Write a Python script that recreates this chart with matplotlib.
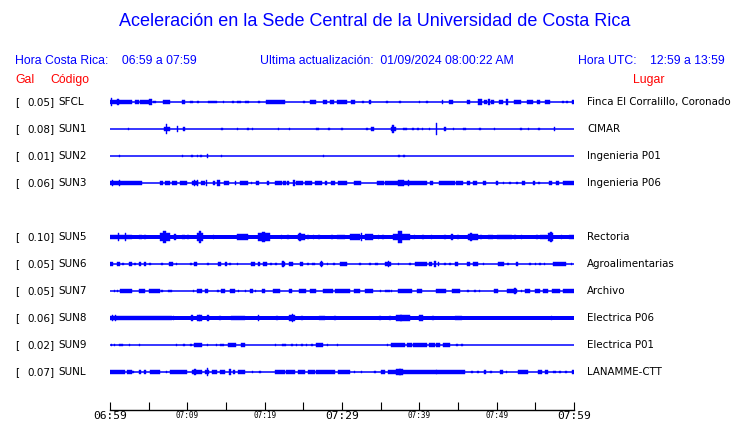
import matplotlib
matplotlib.use("Agg")
import matplotlib.pyplot as plt

# ---------------- data ----------------
CODES = ["SFCL", "SUN1", "SUN2", "SUN3", "SUN4", "SUN5", "SUN6", "SUN7", "SUN8", "SUN9", "SUNL"]
GAL = [0.05, 0.08, 0.01, 0.06, None, 0.10, 0.05, 0.05, 0.06, 0.02, 0.07]
PLACES = ["Finca El Corralillo, Coronado", "CIMAR", "Ingenieria P01", "Ingenieria P06", "",
          "Rectoria", "Agroalimentarias", "Archivo", "Electrica P06", "Electrica P01", "LANAMME-CTT"]

# background envelope amplitude of each trace (relative units)
BASE = {"SFCL": 0, "SUN1": 0, "SUN2": 0, "SUN3": 0, "SUN5": 1.15, "SUN6": 0,
        "SUN7": 0, "SUN8": 1.1, "SUN9": 0, "SUNL": 0}

# bursts: (start minute, end minute, envelope amplitude)
SFCL_EV = [(0,2.8,1.4),(0.1,0.3,2.2),(0.9,1.1,2.0),(3.2,3.7,1),(3.9,5.0,1),(5.1,5.4,1.8),(5.6,6.0,0.9),
           (6.9,7.8,1),(9.3,9.7,1),(10.4,10.7,0.9),(11.3,11.5,0.8),(12.7,13.8,0.9),(14.6,14.8,0.7),
           (15.8,16.0,0.7),(16.4,17.0,0.9),(17.4,18.0,0.9),(19.2,19.4,0.7),(20.2,22.6,1.2),(25.0,25.2,0.7),
           (25.9,26.7,1),(27.6,28.0,1),(28.4,29.0,1),(29.3,30.6,1),(31.2,31.7,1),(32.6,32.8,0.7),
           (33.5,33.8,1),(35.7,35.9,0.6),(37.4,37.6,0.6),(39.9,40.1,0.6),(40.9,41.1,0.6),(42.9,43.1,1),
           (43.8,44.3,1),(46.1,46.5,1),(47.6,48.1,1.6),(48.3,48.8,1.2),(48.9,49.2,1.8),(49.3,49.6,1),
           (50.3,50.8,1),(51.2,51.5,1.8),(52.3,53.2,1),(53.9,54.7,1),(55.2,55.6,1),(56.2,56.9,1),
           (58.5,58.7,0.7),(59.0,59.2,0.7),(59.7,60,1)]
SUN1_EV = [(2.3,2.5,0.8),(7.0,7.8,1.4),(7.2,7.4,3.0),(8.6,8.8,1.6),(9.4,9.7,1.0),(14.4,14.6,0.7),
           (16.4,16.6,0.7),(17.7,18.0,0.8),(18.3,18.5,0.6),(21.7,21.9,0.7),(23.1,23.3,0.7),(26.7,27.0,0.8),
           (28.2,28.4,0.7),(29.9,30.1,0.6),(33.1,33.3,0.7),(33.8,34.1,1.0),(36.3,37.0,1.4),(36.5,36.7,2.4),
           (37.9,38.4,0.8),(39.1,39.3,0.8),(39.7,39.9,0.7),(40.3,40.5,0.7),(41.2,41.4,0.7),(42.1,42.25,3.8),
           (43.2,43.4,1.0),(44.3,44.5,0.6),(45.7,46.0,0.7),(47.7,48.0,0.8),(49.6,49.8,0.6),(53.0,53.3,0.7),
           (54.0,54.2,0.7),(55.4,55.6,0.6),(57.4,57.6,1.0)]
SUN2_EV = [(1.1,1.3,0.6),(9.3,9.5,0.6),(10.5,10.7,0.6),(11.2,11.4,0.6),(11.7,11.9,0.9),(12.5,12.7,1.0),
           (14.3,14.5,0.6),(27.5,27.7,0.6),(37.3,37.5,0.6),(37.9,38.1,0.6)]
SUN3_EV = [(0,4.1,1.2),(0.2,0.4,1.8),(1.1,1.3,1.8),(6.5,6.9,1),(7.1,7.8,1),(8.0,8.6,1.3),(9.0,10.0,1),
           (10.6,11.4,1.4),(10.8,11.0,2.0),(11.2,11.4,2.0),(11.8,12.3,1.2),(12.4,12.6,2.0),(13.3,13.6,1),
           (13.9,14.2,1.8),(14.7,15.4,1),(16.1,16.3,1),(16.8,17.9,1),(18.2,18.4,0.8),(18.9,19.3,1),
           (20.3,20.6,1),(21.3,22.2,1.2),(22.4,22.7,1.2),(22.9,23.2,1),(23.7,23.9,1.8),(24.1,25.0,1.2),
           (25.2,26.1,1.2),(26.5,27.4,1.2),(27.8,28.1,1.2),(28.6,29.1,1.2),(29.5,30.6,1),(31.5,32.5,1),
           (34.5,35.4,1),(35.6,41.0,1.4),(37.3,38.0,1.9),(38.5,38.7,1.9),(41.4,41.8,1.5),(42.5,44.6,1.2),
           (44.8,45.7,1.2),(46.2,46.5,1),(47.0,47.4,1),(48.2,48.6,1),(49.9,50.2,1),(50.8,51.0,0.8),
           (51.6,51.8,0.8),(52.5,52.7,0.8),(53.3,53.7,1),(54.7,55.0,1),(55.4,55.6,0.8),(56.8,57.1,1),
           (57.7,58.0,1),(58.6,60,1.2)]
SUN5_EV = [(0,2.8,1.5),(1.0,1.2,2.2),(1.9,2.1,2.2),(3.7,4.1,1.5),(4.4,4.6,1.5),(6.5,7.8,2.4),(6.9,7.3,4.0),
           (8.3,8.5,1.6),(9.3,9.7,1.5),(10.0,10.2,1.5),(11.2,12.0,2.2),(11.5,11.8,3.6),(13.3,13.5,1.5),
           (16.4,17.9,1.8),(19.2,20.7,2.2),(19.6,20.1,3.4),(22.1,22.3,1.5),(22.9,23.1,1.5),(24.3,25.2,1.8),
           (24.5,24.7,2.3),(25.5,25.7,1.5),(26.2,26.4,1.5),(26.9,27.1,1.5),(28.6,28.8,1.5),(29.4,30.4,1.5),
           (31.0,32.3,1.8),(32.4,32.6,2.3),(33.0,34.0,1.8),(34.6,34.8,1.5),(35.2,35.4,1.5),(36.6,38.8,2.0),
           (37.3,37.7,3.8),(39.3,39.5,1.5),(40.4,40.6,1.5),(41.5,41.7,1.5),(43.2,43.4,1.5),(44.1,44.3,1.8),
           (44.9,45.1,1.5),(46.3,47.6,2.0),(46.6,46.8,2.6),(47.9,48.1,1.5),(48.9,49.5,1.5),(50.0,52.0,1.5),
           (52.3,52.5,1.5),(53.1,53.3,1.5),(55.1,55.3,1.5),(55.6,56.5,1.5),(56.7,57.3,2.2),(56.9,57.1,3.4),
           (58.3,58.5,1.5),(59.3,60,1.5)]
SUN6_EV = [(0,0.4,1),(0.9,1.3,1),(1.6,1.8,0.7),(2.5,2.8,1),(3.1,3.3,0.7),(3.7,4.0,1),(4.4,4.7,1.5),
           (5.1,5.3,0.7),(6.6,6.8,0.7),(7.6,8.2,1),(8.5,8.7,0.7),(10.4,10.6,0.7),(10.9,11.2,1),(12.6,12.8,0.7),
           (14.0,14.3,1),(14.9,15.1,1.5),(15.4,15.7,0.8),(16.4,16.6,0.7),(18.2,18.7,1),(19.1,19.4,1),
           (19.8,20.3,1),(20.7,20.9,0.7),(21.4,21.6,0.7),(22.2,22.6,1.4),(22.3,22.5,2.0),(23.1,23.7,1.5),
           (24.6,25.0,1),(25.5,25.7,0.8),(26.1,26.5,0.8),(27.1,27.6,1.1),(27.3,27.45,2.0),(28.0,28.2,0.7),
           (28.9,29.1,0.7),(29.8,30.6,1),(32.2,32.4,0.7),(33.5,33.7,0.7),(34.3,34.7,0.7),(35.6,36.4,1.3),
           (35.9,36.1,1.8),(37.2,37.4,0.8),(38.7,38.9,0.7),(39.4,41.0,1),(41.2,41.6,1.5),(41.9,42.1,1.9),
           (42.4,42.6,1),(43.2,43.4,0.7),(43.9,44.1,0.7),(44.6,45.0,1),(46.1,46.6,1.4),(47.0,47.6,1),
           (48.2,48.4,0.7),(50.2,51.0,1),(51.4,51.6,0.7),(52.5,52.8,1),(54.2,54.4,0.7),(54.9,55.1,0.7),
           (55.5,55.7,0.7),(56.1,56.3,0.7),(57.3,59.0,1),(59.6,59.8,0.7)]
SUN7_EV = [(0.5,0.7,0.6),(0.85,1.0,0.6),(1.3,2.8,1),(3.7,4.5,1),(5.0,6.5,1),(6.6,6.8,0.6),(7.5,8.0,0.8),
           (10.7,10.9,0.6),(11.2,11.9,1),(12.3,12.7,1),(13.9,14.1,0.6),(14.4,14.9,1),(15.5,16.2,1.3),
           (16.5,16.7,0.6),(17.4,17.6,0.6),(18.1,18.5,1),(18.7,18.9,0.6),(19.6,20.0,1),(21.1,22.0,1.2),
           (23.1,23.5,1),(24.4,25.4,1.2),(25.9,26.7,1.2),(27.6,28.9,1.2),(29.1,31.0,1.3),(31.5,32.3,1.3),
           (33.0,34.0,1),(34.9,35.1,0.6),(35.6,36.2,0.8),(36.3,36.5,0.6),(37.3,39.0,1.3),(39.7,40.3,1),
           (42.2,43.5,1),(44.2,45.3,1.2),(46.2,46.4,0.8),(47.1,47.3,0.8),(47.7,47.9,0.6),(49.6,50.2,1.2),
           (51.3,52.6,1.2),(52.3,52.5,1.6),(53.1,53.3,0.6),(53.7,54.3,1),(55.0,55.6,1.2),(56.0,56.7,1),
           (57.1,58.2,1),(58.6,60,1.2)]
SUN8_EV = [(0,8.0,1.3),(0.2,0.4,1.8),(0.6,0.8,1.6),(8.1,8.3,1.5),(10.5,10.7,1.8),(11.2,11.9,1.7),
           (11.5,11.7,2.1),(12.6,12.8,1.6),(14.1,14.3,1.5),(15.7,17.5,1.4),(19.1,19.3,1.6),(21.5,21.7,1.5),
           (23.1,23.9,1.7),(23.5,23.7,2.2),(24.7,24.9,1.5),(27.0,27.8,1.5),(29.0,29.2,1.5),(34.8,35.0,1.4),
           (36.1,36.3,1.5),(37.0,38.8,1.6),(37.5,37.8,2.1),(39.9,40.5,1.8),(41.7,41.9,1.4),(44.6,45.5,1.5),
           (57.0,57.2,1.5)]
SUN9_EV = [(0.1,0.3,0.9),(0.5,0.7,0.9),(1.2,1.7,0.9),(2.4,2.6,0.9),(3.7,3.9,0.9),(8.5,8.7,0.9),
           (9.4,9.7,0.9),(10.4,10.6,0.9),(10.8,11.9,1),(12.5,12.7,0.9),(13.7,13.9,0.9),(14.2,14.7,0.9),
           (15.2,16.3,1),(16.9,17.5,1),(21.3,21.5,0.9),(22.2,22.8,0.9),(23.4,23.6,0.9),(24.0,24.2,0.9),
           (24.7,24.9,0.9),(25.3,25.5,0.9),(26.0,26.2,0.9),(26.7,27.5,1),(28.0,28.2,0.9),(29.3,29.5,0.9),
           (35.8,36.0,0.9),(36.4,38.1,1),(38.4,39.0,1),(39.2,41.0,1),(41.2,42.0,1),(42.2,42.7,1),
           (43.1,44.0,1),(44.8,45.0,0.9),(45.4,45.6,0.7)]
SUNL_EV = [(0,1.9,1.1),(2.2,2.8,1.1),(2.9,3.1,0.6),(3.7,4.0,1),(4.4,4.6,1),(5.2,6.5,1),(7.2,7.4,0.6),
           (7.8,9.9,1.1),(10.6,11.9,1.3),(10.9,11.1,1.7),(12.3,12.8,1.4),(12.5,12.65,2.6),(13.2,13.8,1),
           (14.2,14.9,1.2),(15.4,15.6,1.6),(15.9,16.2,1),(16.6,17.5,1),(18.3,18.5,0.6),(19.3,19.5,0.8),
           (21.3,22.6,1.2),(22.8,23.9,1.2),(24.3,25.2,1.1),(25.6,26.5,1.1),(26.7,29.1,1.1),(29.5,31.0,1.1),
           (31.5,31.7,0.6),(32.4,32.6,0.6),(34.2,34.4,0.6),(35.0,35.5,1),(36.0,45.9,1.2),(37.0,37.9,1.6),
           (37.4,37.6,2.0),(42.1,42.3,1.4),(46.7,46.9,0.6),(47.5,47.7,0.6),(48.4,48.6,1.2),(49.2,49.4,0.6),
           (50.4,50.8,1),(51.2,51.4,0.6),(52.8,54.1,1),(55.4,55.8,1),(56.2,56.7,1),(57.3,57.7,0.8),
           (58.1,58.3,0.6),(58.9,59.1,0.6),(59.7,60,1.2)]
EVENTS = {"SFCL": SFCL_EV, "SUN1": SUN1_EV, "SUN2": SUN2_EV, "SUN3": SUN3_EV, "SUN5": SUN5_EV,
          "SUN6": SUN6_EV, "SUN7": SUN7_EV, "SUN8": SUN8_EV, "SUN9": SUN9_EV, "SUNL": SUNL_EV}

TICK_MINUTES = list(range(0, 61, 5))
TICK_LABELS = ["06:59", "", "07:09", "", "07:19", "", "07:29", "", "07:39", "", "07:49", "", "07:59"]
BIG_LABELS = ["06:59", "07:29", "07:59"]

TITLE = "Aceleración en la Sede Central de la Universidad de Costa Rica"
HORA_CR = "Hora Costa Rica:    06:59 a 07:59"
ACTUALIZ = "Ultima actualización:  01/09/2024 08:00:22 AM"
HORA_UTC = "Hora UTC:    12:59 a 13:59"

# ---------------- drawing ----------------
BLUE = "#0000ff"
RED = "#ff0000"
W, H = 740, 423
fig = plt.figure(figsize=(W / 100, H / 100), dpi=100)
fig.patch.set_facecolor("white")

def fx(px):
    return px / W

def fy(py):
    return 1 - py / H

HEAD = "Liberation Sans"
HS = 8.8
fig.text(fx(375), fy(22), TITLE, color=BLUE, fontsize=13, family=HEAD, ha="center", va="center")
fig.text(fx(15), fy(61), HORA_CR, color=BLUE, fontsize=HS, family=HEAD, ha="left", va="center")
fig.text(fx(260), fy(61), ACTUALIZ, color=BLUE, fontsize=HS, family=HEAD, ha="left", va="center")
fig.text(fx(725), fy(61), HORA_UTC, color=BLUE, fontsize=HS, family=HEAD, ha="right", va="center")
fig.text(fx(15), fy(80), "Gal", color=RED, fontsize=HS, family=HEAD, ha="left", va="center")
fig.text(fx(50), fy(80), "Código", color=RED, fontsize=HS, family=HEAD, ha="left", va="center")
fig.text(fx(665), fy(80), "Lugar", color=RED, fontsize=HS, family=HEAD, ha="right", va="center")

# trace axes: x in minutes after 06:59, y in slot index
n = len(CODES)
top_px, slot_px = 102, 27
ax = fig.add_axes([fx(110), fy(top_px + slot_px * (n - 0.5)), fx(574) - fx(110), slot_px * n / H])
ax.set_xlim(0, 60)
ax.set_ylim(n - 0.5, -0.5)
ax.axis("off")

unit = 1.6 / slot_px  # envelope unit -> slot fraction
for i, code in enumerate(CODES):
    if GAL[i] is None:
        continue
    ax.plot([0, 60], [i, i], color=BLUE, lw=1.1, solid_capstyle="butt")
    base = BASE[code]
    if base > 0:
        ax.bar(0, 2 * base * unit, bottom=i - base * unit, width=60, align="edge",
               color=BLUE, linewidth=0)
    for (s, e, a) in EVENTS[code]:
        ax.bar(s, 2 * a * unit, bottom=i - a * unit, width=e - s, align="edge",
               color=BLUE, linewidth=0.3, edgecolor=BLUE)
    lab_y = fy(top_px + slot_px * i)
    fig.text(fx(15), lab_y, "[", fontsize=7.5, family="DejaVu Sans", ha="left", va="center")
    fig.text(fx(55), lab_y, f"{GAL[i]:.2f}]", fontsize=7.5, family="DejaVu Sans", ha="right", va="center")
    fig.text(fx(58.5), lab_y, code, fontsize=7.5, family="DejaVu Sans", ha="left", va="center")
    fig.text(fx(587), lab_y, PLACES[i], fontsize=7.4, family="DejaVu Sans", ha="left", va="center")

# time axis
tax = fig.add_axes([fx(110), fy(409.5), fx(574) - fx(110), 0.001])
tax.set_xlim(0, 60)
tax.set_yticks([])
for side in ("top", "left", "right"):
    tax.spines[side].set_visible(False)
tax.spines["bottom"].set_linewidth(1.0)
tax.set_xticks(TICK_MINUTES)
tax.set_xticklabels(TICK_LABELS, family="DejaVu Sans Mono")
tax.tick_params(axis="x", direction="in", length=5.8, width=0.8, pad=1.0)
for lbl in tax.get_xticklabels():
    lbl.set_fontsize(8.1 if lbl.get_text() in BIG_LABELS else 5.5)

fig.savefig("out.png", dpi=100, facecolor="white")
